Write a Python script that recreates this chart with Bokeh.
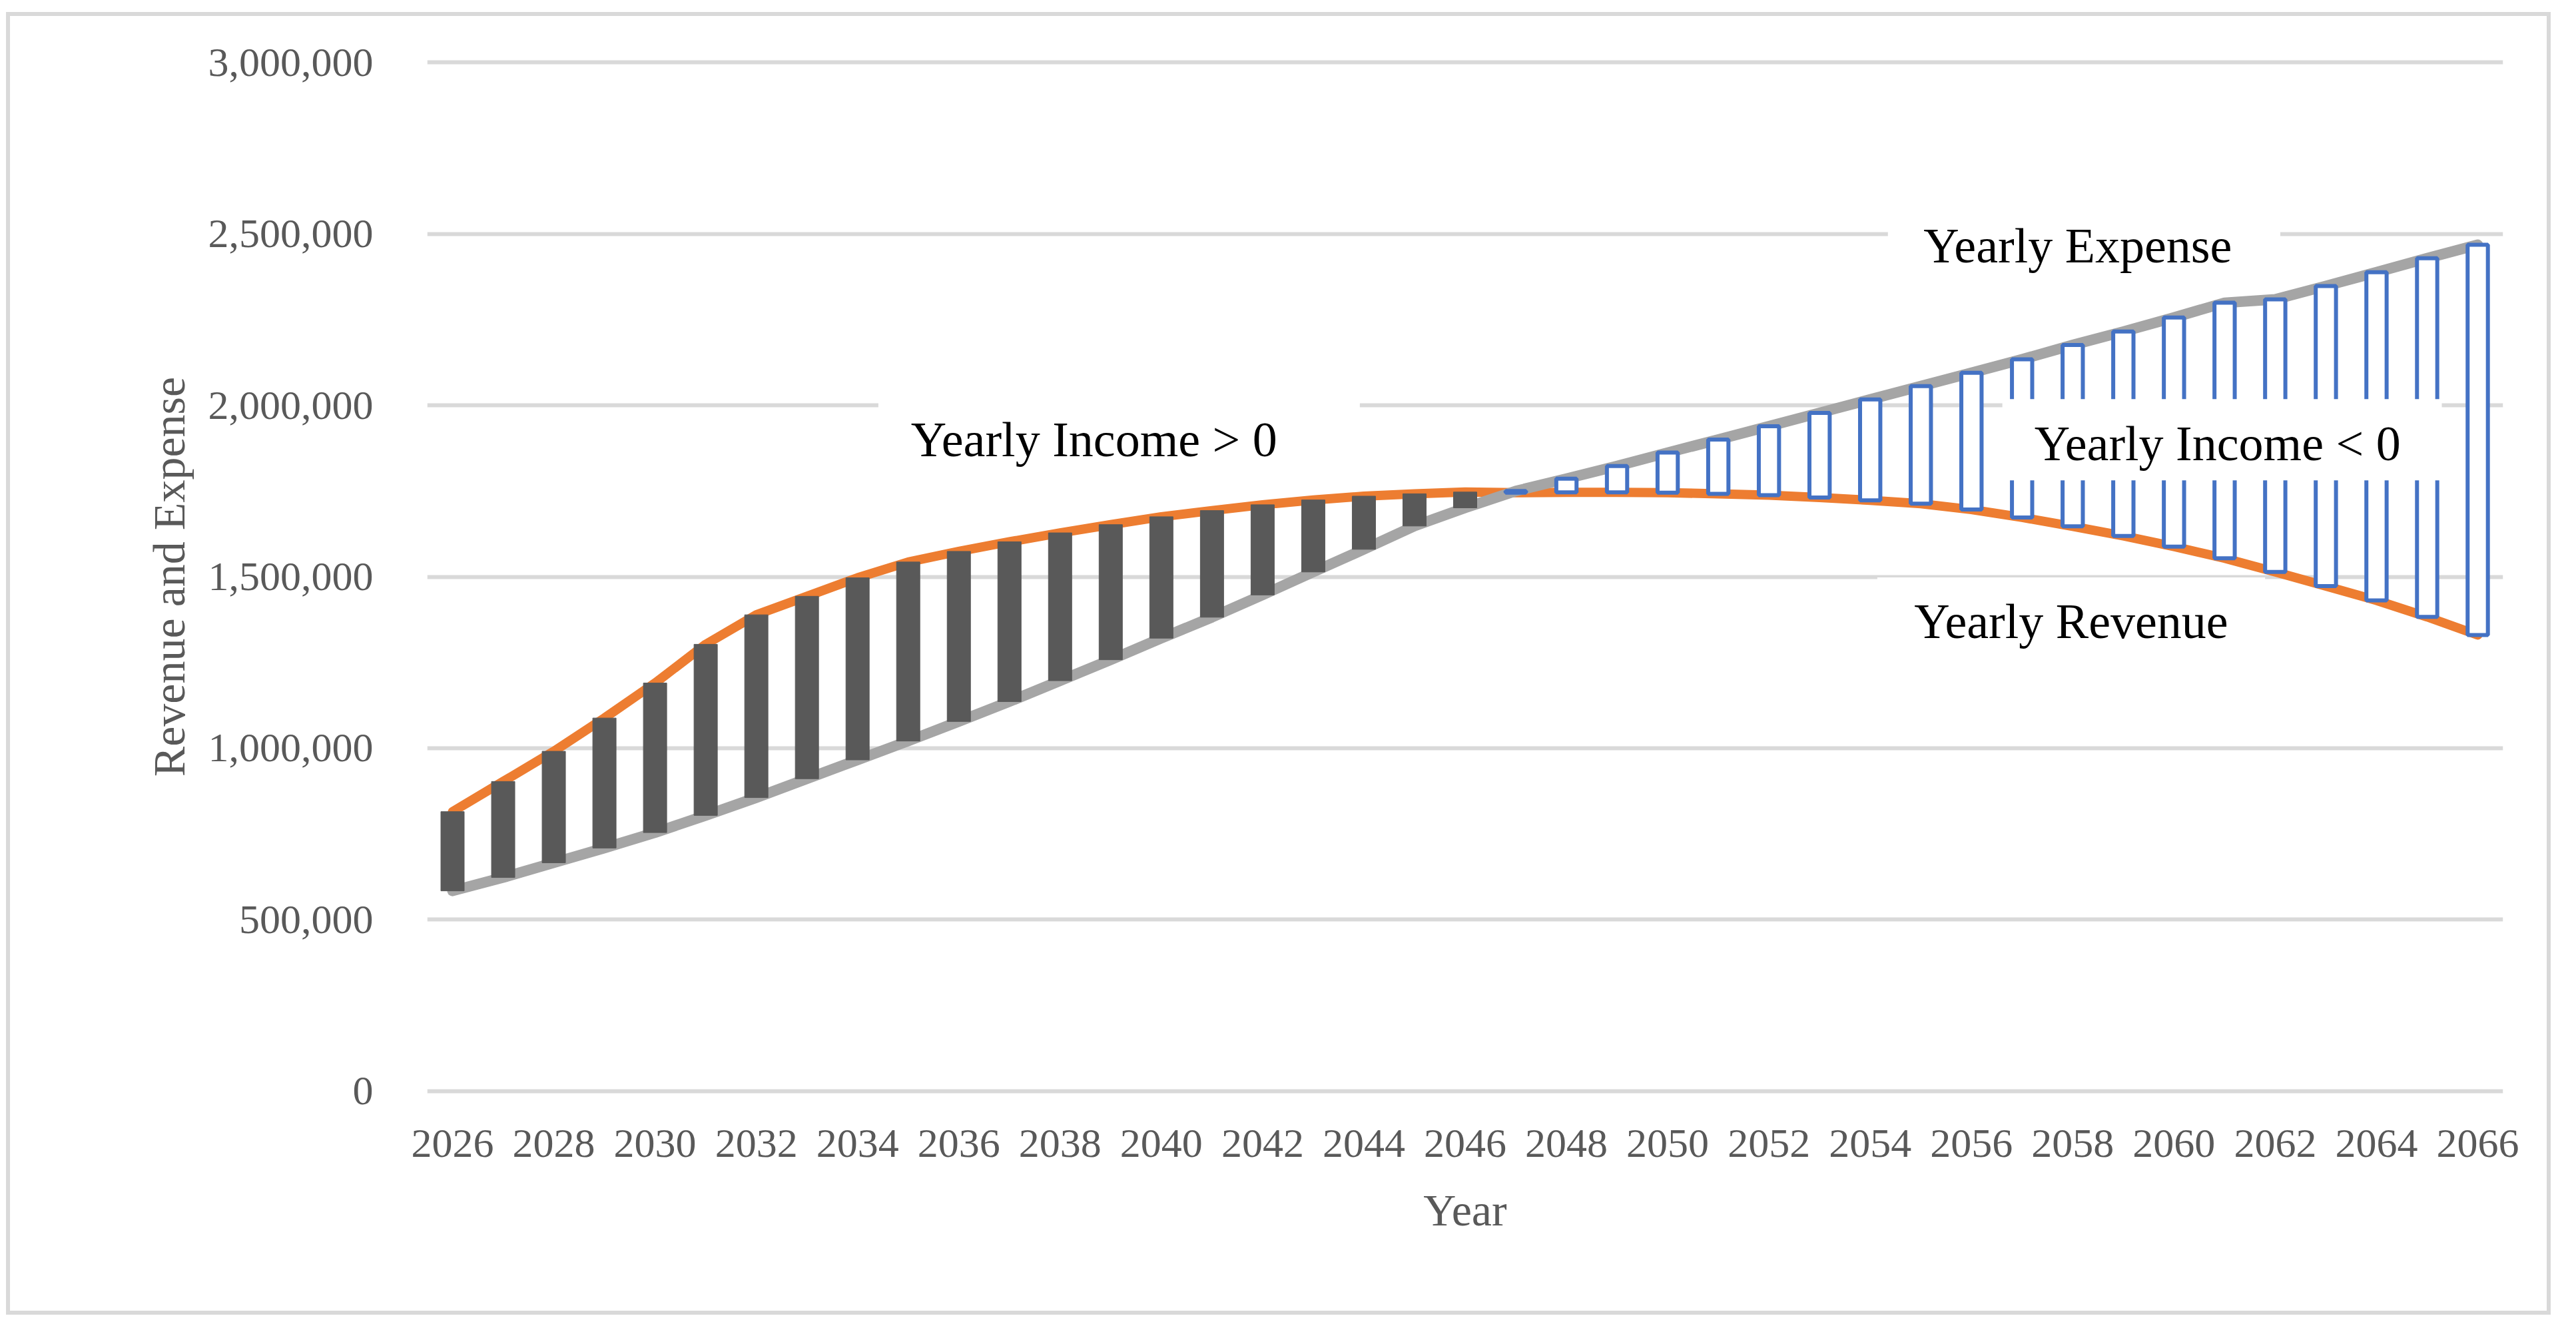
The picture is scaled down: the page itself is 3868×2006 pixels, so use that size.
from bokeh.plotting import figure
from bokeh.models import (ColumnDataSource, Range1d, FixedTicker,
                          NumeralTickFormatter, Label, BoxAnnotation)
from bokeh.embed import file_html
from bokeh.resources import INLINE

# ---------------- data ----------------
years = [2026, 2027, 2028, 2029, 2030, 2031, 2032, 2033, 2034, 2035,
         2036, 2037, 2038, 2039, 2040, 2041, 2042, 2043, 2044, 2045,
         2046, 2047, 2048, 2049, 2050, 2051, 2052, 2053, 2054, 2055,
         2056, 2057, 2058, 2059, 2060, 2061, 2062, 2063, 2064, 2065, 2066]

revenue = [815000, 903000, 991000, 1088000, 1190000, 1303000, 1389000, 1443000, 1497000, 1543000,
           1574000, 1602000, 1628000, 1652000, 1675000, 1693000, 1710000, 1724000, 1735000, 1742000,
           1747000, 1745000, 1746000, 1746000, 1745000, 1742000, 1738000, 1731000, 1723000, 1713000,
           1696000, 1673000, 1647000, 1619000, 1588000, 1554000, 1514000, 1473000, 1431000, 1383000,
           1330000]

expense = [584000, 623000, 666000, 709000, 754000, 804000, 856000, 911000, 966000, 1021000,
           1078000, 1136000, 1197000, 1258000, 1321000, 1382000, 1447000, 1514000, 1580000, 1648000,
           1701000, 1750000, 1786000, 1823000, 1862000, 1900000, 1939000, 1978000, 2017000, 2056000,
           2095000, 2134000, 2176000, 2215000, 2256000, 2299000, 2309000, 2348000, 2388000, 2429000,
           2468000]

x_tick_years = [2026, 2028, 2030, 2032, 2034, 2036, 2038, 2040, 2042, 2044, 2046,
                2048, 2050, 2052, 2054, 2056, 2058, 2060, 2062, 2064, 2066]
y_ticks = [0, 500000, 1000000, 1500000, 2000000, 2500000, 3000000]

x_title = "Year"
y_title = "Revenue and Expense"

# annotation texts (text, x, baseline y) and their white boxes (left, right, top, bottom)
note_texts = ["Yearly Income > 0", "Yearly Income < 0", "Yearly Expense", "Yearly Revenue"]
note_x = [2038.67, 2060.86, 2058.1, 2057.97]
note_y = [1900000, 1889000, 2466000, 1369000]
box_left = [2034.41, 2056.61, 2054.35, 2054.14]
box_right = [2043.92, 2065.29, 2062.1, 2061.8]
box_top = [2024000, 2018000, 2560000, 1498000]
box_bottom = [1795000, 1781000, 2380000, 1250000]

# ---------------- figure ----------------
FONT = "Liberation Serif"
GREY_TXT = "#595959"

p = figure(width=3821, height=1956, output_backend="svg", toolbar_location=None,
           x_range=Range1d(2025.5, 2066.5), y_range=Range1d(-12000, 3012000),
           min_border_left=626, min_border_right=78, min_border_top=63, min_border_bottom=336,
           background_fill_color="white", border_fill_color="white",
           styles={"border": "6px solid #D9D9D9", "margin-left": "9px", "margin-top": "18px"})

p.outline_line_color = None
p.xgrid.visible = False
p.ygrid.grid_line_color = "#D9D9D9"
p.ygrid.grid_line_width = 6

# lines
p.line(years, revenue, line_color="#ED7D31", line_width=14, line_join="round", line_cap="round")
p.line(years, expense, line_color="#A5A5A5", line_width=16, line_join="round", line_cap="round")

# up / down bars
up_x, up_top, up_bot, dn_x, dn_top, dn_bot = [], [], [], [], [], []
for yr, r, e in zip(years, revenue, expense):
    if r >= e:
        up_x.append(yr); up_top.append(r); up_bot.append(e)
    else:
        dn_x.append(yr); dn_top.append(e); dn_bot.append(r)

p.vbar(x="x", top="top", bottom="bottom", width=0.46,
       source=ColumnDataSource(dict(x=up_x, top=up_top, bottom=up_bot)),
       fill_color="#595959", line_color="#595959", line_width=1)
p.vbar(x="x", top="top", bottom="bottom", width=0.4,
       source=ColumnDataSource(dict(x=dn_x, top=dn_top, bottom=dn_bot)),
       fill_color="white", line_color="#4472C4", line_width=6)

# axes
p.xaxis.ticker = FixedTicker(ticks=x_tick_years)
p.yaxis.ticker = FixedTicker(ticks=y_ticks)
p.yaxis.formatter = NumeralTickFormatter(format="0,0")
p.xaxis.axis_label = x_title
p.yaxis.axis_label = y_title
for ax in (p.xaxis, p.yaxis):
    ax.axis_line_color = None
    ax.major_tick_line_color = None
    ax.minor_tick_line_color = None
    ax.major_tick_out = 0
    ax.major_tick_in = 0
    ax.minor_tick_out = 0
    ax.major_label_text_font = FONT
    ax.major_label_text_font_size = "62px"
    ax.major_label_text_color = GREY_TXT
    ax.axis_label_text_font = FONT
    ax.axis_label_text_font_size = "68px"
    ax.axis_label_text_font_style = "normal"
    ax.axis_label_text_color = GREY_TXT
p.yaxis.major_label_standoff = 81
p.yaxis.axis_label_standoff = 18
p.xaxis.major_label_standoff = 52
p.xaxis.axis_label_standoff = 39

# white text boxes and texts
for l, r, t, b in zip(box_left, box_right, box_top, box_bottom):
    p.add_layout(BoxAnnotation(left=l, right=r, top=t, bottom=b, fill_color="white",
                               fill_alpha=1.0, line_alpha=0.0))
for txt, x, y in zip(note_texts, note_x, note_y):
    p.add_layout(Label(x=x, y=y, text=txt, text_font=FONT, text_font_size="74px",
                       text_color="black", text_align="center", text_baseline="alphabetic"))

open("out.html", "w").write(file_html(p, INLINE))
